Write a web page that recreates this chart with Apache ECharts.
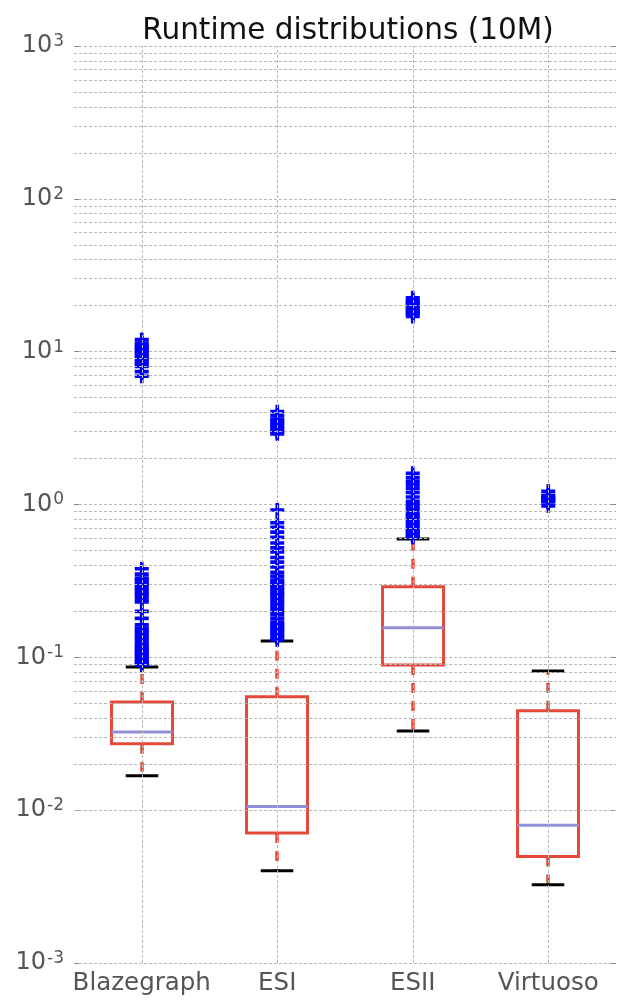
<!DOCTYPE html>
<html>
<head>
<meta charset="utf-8">
<script src="https://cdn.jsdelivr.net/npm/echarts@6/dist/echarts.min.js"></script>
<style>
html,body{margin:0;padding:0;background:#fff;}
#chart{width:624px;height:1002px;}
</style>
</head>
<body>
<div id="chart"></div>
<script>
const categories = ['Blazegraph', 'ESI', 'ESII', 'Virtuoso'];
// [lower whisker, Q1, median, Q3, upper whisker]
const statsBlazegraph = [0.0168, 0.0272, 0.0325, 0.051, 0.0865];
const statsESI = [0.00401, 0.00708, 0.01056, 0.0553, 0.128];
const statsESII = [0.033, 0.0892, 0.156, 0.29, 0.595];
const statsVirtuoso = [0.00325, 0.00497, 0.00798, 0.0448, 0.0815];

const outliersBlazegraph = [12.0, 11.4, 11.0, 10.7, 10.4, 10.1, 9.8, 9.5, 9.2, 8.9, 8.6, 8.3, 8.0, 7.4, 6.9,
  0.38, 0.35, 0.33, 0.32, 0.31, 0.30, 0.29, 0.28, 0.27, 0.26, 0.25, 0.24, 0.23, 0.20, 0.18,
  0.163, 0.155, 0.15, 0.145, 0.14, 0.135, 0.13, 0.125, 0.12, 0.117, 0.113, 0.11, 0.107, 0.104,
  0.101, 0.098, 0.095, 0.093, 0.091, 0.089];
const outliersESI = [4.05, 3.8, 3.6, 3.5, 3.4, 3.3, 3.2, 3.1, 3.0, 2.9,
  0.92, 0.76, 0.71, 0.66, 0.61, 0.56, 0.52, 0.49, 0.45, 0.42, 0.39, 0.36, 0.34, 0.32, 0.31,
  0.30, 0.29, 0.28, 0.27, 0.26, 0.25, 0.24, 0.23, 0.22, 0.21, 0.20, 0.19, 0.18, 0.17, 0.165,
  0.16, 0.155, 0.15, 0.145, 0.14, 0.135, 0.13];
const outliersESII = [22.5, 21.5, 21.0, 20.5, 20.0, 19.5, 19.0, 18.5, 18.0, 17.5, 17.0,
  1.6, 1.5, 1.42, 1.35, 1.28, 1.2, 1.12, 1.05, 1.0, 0.96, 0.92, 0.88, 0.85, 0.82, 0.79,
  0.76, 0.73, 0.70, 0.68, 0.66, 0.64, 0.62, 0.61];
const outliersVirtuoso = [1.22, 1.15, 1.12, 1.10, 1.08, 1.06, 1.04, 0.98];

const allStats = [statsBlazegraph, statsESI, statsESII, statsVirtuoso];
const allOutliers = [outliersBlazegraph, outliersESI, outliersESII, outliersVirtuoso];

const boxData = allStats.map((s, i) => [i].concat(s));
const outlierData = [];
allOutliers.forEach((arr, i) => arr.forEach(v => outlierData.push([i, v])));

// grid lines (major handled by splitLine, minor at 2..9 x 10^k)
const gridMarks = [];
for (let e = -3; e <= 2; e++) {
  for (let m = 2; m <= 9; m++) gridMarks.push({ yAxis: m * Math.pow(10, e) });
}
categories.forEach(c => gridMarks.push({ xAxis: c }));

const RED = '#e5493a';
const MED = '#938ed8';
const gridStyle = { type: [3, 2], color: '#b8b8b8', width: 1 };

function expLabel(v) {
  const e = Math.round(Math.log10(v));
  return '{b|10}{s|' + e + '}';
}

const chart = echarts.init(document.getElementById('chart'), null, { renderer: 'canvas' });
chart.setOption({
  animation: false,
  backgroundColor: '#fff',
  title: {
    text: 'Runtime distributions (10M)',
    left: 343, top: 11, textAlign: 'center',
    textStyle: { fontFamily: 'DejaVu Sans', fontSize: 29.5, fontWeight: 'normal', color: '#111' }
  },
  grid: { left: 74, right: 8, top: 46, bottom: 39 },
  xAxis: {
    type: 'category', data: categories,
    axisLine: { show: false }, axisTick: { show: false },
    splitLine: { show: false },
    axisLabel: { interval: 0, fontFamily: 'DejaVu Sans', fontSize: 24.5, color: '#555', margin: 8 }
  },
  yAxis: [{
    type: 'log', logBase: 10, min: 0.001, max: 1000, interval: 1,
    axisLine: { show: false },
    axisTick: { show: true, inside: true, length: 5, lineStyle: { color: '#888' } },
    splitLine: { show: true, lineStyle: gridStyle },
    axisLabel: {
      margin: 10, formatter: expLabel,
      rich: {
        b: { fontFamily: 'DejaVu Sans', fontSize: 24, color: '#555', lineHeight: 26 },
        s: { fontFamily: 'DejaVu Sans', fontSize: 17, color: '#555', verticalAlign: 'top', lineHeight: 26, padding: [0, 0, 12, 1] }
      }
    }
  }, {
    type: 'log', logBase: 10, min: 0.001, max: 1000, interval: 1, position: 'right',
    axisLine: { show: false },
    axisTick: { show: true, inside: true, length: 5, lineStyle: { color: '#888' } },
    splitLine: { show: false }, axisLabel: { show: false }
  }],
  series: [{
    type: 'line', data: [], z: 1, silent: true,
    markLine: {
      silent: true, symbol: ['none', 'none'], label: { show: false },
      lineStyle: gridStyle, emphasis: { disabled: true },
      data: gridMarks
    }
  }, {
    type: 'custom', z: 2, data: boxData,
    renderItem: function (params, api) {
      const idx = api.value(0);
      const yMin = api.coord([idx, api.value(1)])[1];
      const yQ1 = api.coord([idx, api.value(2)])[1];
      const yMed = api.coord([idx, api.value(3)])[1];
      const yQ3 = api.coord([idx, api.value(4)])[1];
      const yMax = api.coord([idx, api.value(5)])[1];
      const x = Math.round(api.coord([idx, api.value(3)])[0]);
      const band = api.coord([1, 1])[0] - api.coord([0, 1])[0];
      const hw = band * 0.45 / 2;
      const cw = band * 0.24 / 2;
      const whisk = { stroke: RED, lineWidth: 3.5, lineDash: [10, 8], fill: null };
      return {
        type: 'group',
        children: [
          { type: 'line', shape: { x1: x, y1: yQ3, x2: x, y2: yMax }, style: whisk },
          { type: 'line', shape: { x1: x, y1: yQ1, x2: x, y2: yMin }, style: whisk },
          { type: 'rect', shape: { x: x - hw, y: yQ3, width: 2 * hw, height: yQ1 - yQ3 },
            style: { stroke: RED, lineWidth: 3, fill: null } },
          { type: 'line', shape: { x1: x - hw, y1: yMed, x2: x + hw, y2: yMed },
            style: { stroke: MED, lineWidth: 3 } },
          { type: 'line', shape: { x1: x - cw, y1: yMax, x2: x + cw, y2: yMax },
            style: { stroke: '#000', lineWidth: 3 } },
          { type: 'line', shape: { x1: x - cw, y1: yMin, x2: x + cw, y2: yMin },
            style: { stroke: '#000', lineWidth: 3 } }
        ]
      };
    }
  }, {
    type: 'scatter', z: 3, data: outlierData,
    symbol: 'path://M3.7,0H6.3V3.7H10V6.3H6.3V10H3.7V6.3H0V3.7H3.7Z', symbolSize: 14,
    itemStyle: { color: '#0000ff', opacity: 1 }
  }]
});
</script>
</body>
</html>
